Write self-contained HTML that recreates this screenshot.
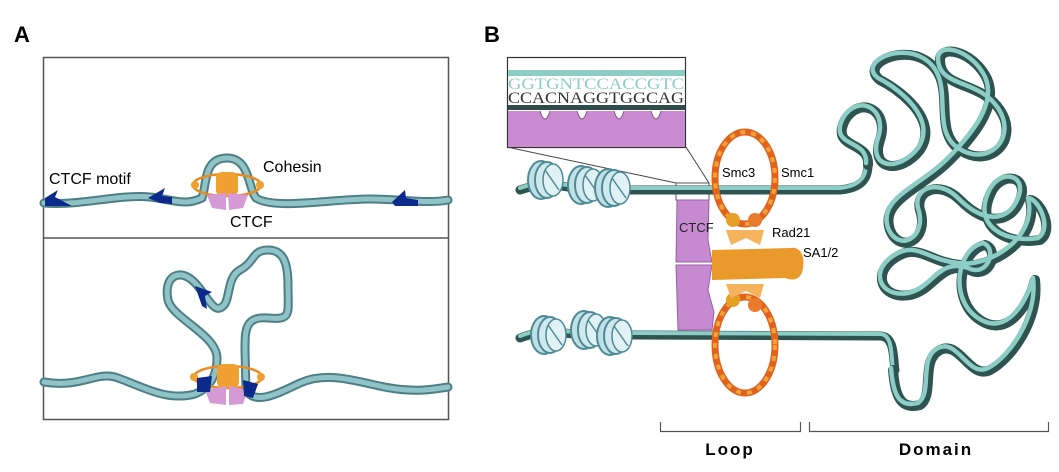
<!DOCTYPE html>
<html><head><meta charset="utf-8"><style>
html,body{margin:0;padding:0;background:#fff;}
svg{display:block;font-family:"Liberation Sans",sans-serif;}
</style></head><body>
<svg width="1059" height="472" viewBox="0 0 1059 472">
<defs>
<g id="nuc">
<ellipse cx="-4" cy="0" rx="13" ry="19" fill="#bfe0e6" stroke="#4e8a95" stroke-width="2"/>
<ellipse cx="2" cy="0" rx="12" ry="18" fill="#cfe9ee" stroke="#4e8a95" stroke-width="2"/>
<ellipse cx="8" cy="0" rx="10" ry="16" fill="#e0f2f5" stroke="#4e8a95" stroke-width="1.5"/>
<line x1="0" y1="-10" x2="14" y2="10" stroke="#4e8a95" stroke-width="1.5"/>
</g>
</defs>

<!-- Panel A -->
<text x="14" y="42" font-size="22" font-weight="bold">A</text>
<rect x="43.5" y="57.5" width="405" height="362" fill="#fff" stroke="#555" stroke-width="1.5"/>
<line x1="43" y1="238" x2="449" y2="238" stroke="#555" stroke-width="1.5"/>

<g fill="none" stroke-linecap="round">
<path d="M44,203 C80,206 120,194 150,197 C175,200 185,206 202,198 C207,185 203,158 227,158 C250,158 248,188 256,198 C275,210 330,199 370,199 C405,199 425,204 448,200" stroke="#4d7f85" stroke-width="9"/>
<path d="M44,203 C80,206 120,194 150,197 C175,200 185,206 202,198 C207,185 203,158 227,158 C250,158 248,188 256,198 C275,210 330,199 370,199 C405,199 425,204 448,200" stroke="#8fc3c7" stroke-width="5"/>
</g>
<g fill="#0b2a8c">
<path d="M45,198 L58,190 L55,197 L72,206 L45,206 Z"/>
<path d="M148,198 L165,188 L162,196 L172,197 L172,204 L160,203 Z"/>
<path d="M392,202 L405,190 L406,198 L418,200 L418,206 L395,206 Z"/>
</g>
<g>
<ellipse cx="227" cy="185" rx="34" ry="11" fill="none" stroke="#e98a1f" stroke-width="2.5"/>
<circle cx="195" cy="185" r="4" fill="#f0a030"/><circle cx="260" cy="185" r="4" fill="#f0a030"/>
<rect x="216" y="172" width="22" height="24" rx="6" fill="#f0a030"/>
</g>
<g fill="#d49ad6">
<path d="M207,195 L226,193 L226,210 L212,208 Z"/><path d="M228,193 L248,195 L243,208 L229,210 Z"/>
</g>
<text x="49" y="184" font-size="16">CTCF motif</text>
<text x="263" y="172" font-size="16">Cohesin</text>
<text x="230" y="227" font-size="16">CTCF</text>

<g fill="none" stroke-linecap="round" stroke-linejoin="round">
<path d="M44,382 C80,388 95,372 115,377 C140,385 165,402 195,394 C210,388 217,375 217,358 C217,335 172,318 168,300 C165,285 170,274 182,275 C200,278 210,312 220,308 C232,304 225,278 240,270 C255,262 252,250 268,250 C283,250 288,262 288,285 C288,315 292,320 268,318 C245,316 245,330 245,350 L246,390 C255,405 275,395 300,383 C330,370 360,383 390,388 C415,392 430,390 448,387" stroke="#4d7f85" stroke-width="9"/>
<path d="M44,382 C80,388 95,372 115,377 C140,385 165,402 195,394 C210,388 217,375 217,358 C217,335 172,318 168,300 C165,285 170,274 182,275 C200,278 210,312 220,308 C232,304 225,278 240,270 C255,262 252,250 268,250 C283,250 288,262 288,285 C288,315 292,320 268,318 C245,316 245,330 245,350 L246,390 C255,405 275,395 300,383 C330,370 360,383 390,388 C415,392 430,390 448,387" stroke="#8fc3c7" stroke-width="5"/>
</g>
<path d="M195,286 L212,292 L205,296 L207,309 L202,306 Z" fill="#0b2a8c"/>
<g>
<ellipse cx="228" cy="377" rx="34" ry="11" fill="none" stroke="#e98a1f" stroke-width="2.5"/>
<circle cx="194" cy="377" r="4" fill="#f0a030"/><circle cx="261" cy="377" r="4" fill="#f0a030"/>
<rect x="217" y="364" width="22" height="24" rx="6" fill="#f0a030"/>
</g>
<g>
<path d="M205,390 L226,386 L226,405 L210,403 Z" fill="#d49ad6"/><path d="M229,386 L248,390 L243,404 L229,405 Z" fill="#d49ad6"/>
<path d="M197,378 L212,376 L210,392 L197,392 Z" fill="#0b2a8c"/><path d="M243,380 L258,384 L253,398 L244,396 Z" fill="#0b2a8c"/>
</g>

<!-- Panel B -->
<text x="484" y="42" font-size="22" font-weight="bold">B</text>
<g>
<rect x="507.5" y="57.5" width="178" height="90" fill="#fff" stroke="#333" stroke-width="1.2"/>
<rect x="508" y="70" width="177" height="6" fill="#8ccdc6"/>
<text x="508" y="89" font-family="Liberation Serif,serif" font-size="16" fill="#8ccdc6" textLength="176" lengthAdjust="spacingAndGlyphs">GGTGNTCCACCGTC</text>
<text x="508" y="103" font-family="Liberation Serif,serif" font-size="16" fill="#333" textLength="176" lengthAdjust="spacingAndGlyphs">CCACNAGGTGGCAG</text>
<rect x="508" y="105" width="177" height="5" fill="#2e4c4a"/>
<path d="M508,111 L685,111 L685,147 L508,147 Z" fill="#c98ad0"/>
<g fill="#fff" stroke="#8a4f92" stroke-width="1"><path d="M540,111 q5,16 10,0"/><path d="M577,111 q5,16 10,0"/><path d="M614,111 q5,16 10,0"/><path d="M651,111 q5,16 10,0"/></g>
<line x1="507" y1="147" x2="676" y2="183" stroke="#444"/>
<line x1="686" y1="147" x2="709" y2="183" stroke="#444"/>
<rect x="676" y="183" width="33" height="17" fill="none" stroke="#555"/>
</g>

<g fill="none" stroke-linecap="round">
<path d="M520,190 C560,175 590,200 625,190 L840,190 C860,188 868,180 868,165" stroke="#2e5350" stroke-width="9"/>
<path d="M520,188 C560,173 590,198 625,188 L840,188 C858,186 866,178 866,165" stroke="#8ccdc6" stroke-width="4"/>
<path d="M520,338 C560,322 590,345 625,335 L880,336 C895,336 893,358 895,370" stroke="#2e5350" stroke-width="9"/>
<path d="M520,336 C560,320 590,343 625,333 L880,334 C893,334 891,356 893,370" stroke="#8ccdc6" stroke-width="4"/>
</g>
<g>
<use href="#nuc" x="545" y="180"/><use href="#nuc" x="585" y="185"/><use href="#nuc" x="612" y="188"/>
</g>
<g>
<use href="#nuc" x="548" y="335"/><use href="#nuc" x="588" y="330"/><use href="#nuc" x="614" y="336"/>
</g>

<g fill="none" stroke-linecap="round" stroke-linejoin="round">
<path d="M868,165 C870,140 830,150 845,120 C860,95 890,110 880,140 C870,170 900,175 920,150 C940,120 900,90 880,80 C860,65 900,45 925,60 C960,80 930,130 960,150 C990,170 1020,140 1000,110 C980,80 940,90 940,60 C940,45 970,50 985,75 C1000,100 980,130 950,160 C920,190 880,200 890,230 C900,255 930,240 920,210 C915,190 940,180 960,200 C985,225 1010,225 1020,200 C1030,175 1000,170 990,195 C975,230 1010,245 1040,240 C1055,230 1040,200 1030,200 M1030,200 C1040,240 990,270 960,265 C930,262 920,245 900,255 C870,270 880,300 910,295 C935,290 940,260 970,270 C990,280 1000,250 985,245 C960,250 950,300 980,320 C1010,340 1030,300 1035,280 C1040,320 1010,360 990,370 C970,380 960,340 940,350 C920,360 935,395 920,405 C900,410 895,395 893,370" stroke="#2e5350" stroke-width="10"/>
<path d="M868,165 C870,140 830,150 845,120 C860,95 890,110 880,140 C870,170 900,175 920,150 C940,120 900,90 880,80 C860,65 900,45 925,60 C960,80 930,130 960,150 C990,170 1020,140 1000,110 C980,80 940,90 940,60 C940,45 970,50 985,75 C1000,100 980,130 950,160 C920,190 880,200 890,230 C900,255 930,240 920,210 C915,190 940,180 960,200 C985,225 1010,225 1020,200 C1030,175 1000,170 990,195 C975,230 1010,245 1040,240 C1055,230 1040,200 1030,200 M1030,200 C1040,240 990,270 960,265 C930,262 920,245 900,255 C870,270 880,300 910,295 C935,290 940,260 970,270 C990,280 1000,250 985,245 C960,250 950,300 980,320 C1010,340 1030,300 1035,280 C1040,320 1010,360 990,370 C970,380 960,340 940,350 C920,360 935,395 920,405 C900,410 895,395 893,370" stroke="#8ccdc6" stroke-width="4.5" transform="translate(-2,-2)"/>
</g>

<g>
<path d="M677,200 L709,200 L708,240 L712,262 L676,262 Z" fill="#c58ad0" stroke="#9b5fa8"/>
<path d="M676,265 L712,265 L708,290 L714,312 L712,330 L678,330 Z" fill="#c58ad0" stroke="#9b5fa8"/>
<text x="679" y="232" font-size="13" fill="#222">CTCF</text>
</g>
<g fill="none">
<ellipse cx="745" cy="178" rx="30" ry="46" stroke="#e0621c" stroke-width="7"/>
<ellipse cx="745" cy="178" rx="30" ry="46" stroke="#f0a33a" stroke-width="4" stroke-dasharray="5 6"/>
<ellipse cx="745" cy="345" rx="30" ry="48" stroke="#e0621c" stroke-width="7"/>
<ellipse cx="745" cy="345" rx="30" ry="48" stroke="#f0a33a" stroke-width="4" stroke-dasharray="5 6"/>
<circle cx="733" cy="220" r="7" fill="#e8a023"/><circle cx="755" cy="220" r="7" fill="#ea7a2c"/>
<circle cx="733" cy="300" r="7" fill="#e8a023"/><circle cx="755" cy="305" r="7" fill="#ea7a2c"/>
<path d="M726,230 L764,230 L760,245 L746,238 L731,245 Z" fill="#f6b35e"/>
<path d="M712,250 L790,248 C800,246 805,255 803,268 C802,278 795,282 785,278 L712,280 Z" fill="#e99a2a"/>
<path d="M726,284 L764,284 L760,298 L746,291 L731,298 Z" fill="#f6b35e"/>
</g>
<text x="722" y="177" font-size="13">Smc3</text>
<text x="781" y="177" font-size="13">Smc1</text>
<text x="772" y="237" font-size="13">Rad21</text>
<text x="803" y="257" font-size="13">SA1/2</text>

<path d="M660.5,422 V431.5 H800.5 V422" fill="none" stroke="#555" stroke-width="1.2"/>
<path d="M809.5,422 V431.5 H1048.5 V422" fill="none" stroke="#555" stroke-width="1.2"/>
<text x="730" y="455" font-size="17" font-weight="bold" text-anchor="middle" letter-spacing="2">Loop</text>
<text x="936" y="455" font-size="17" font-weight="bold" text-anchor="middle" letter-spacing="2">Domain</text>
</svg>
</body></html>
